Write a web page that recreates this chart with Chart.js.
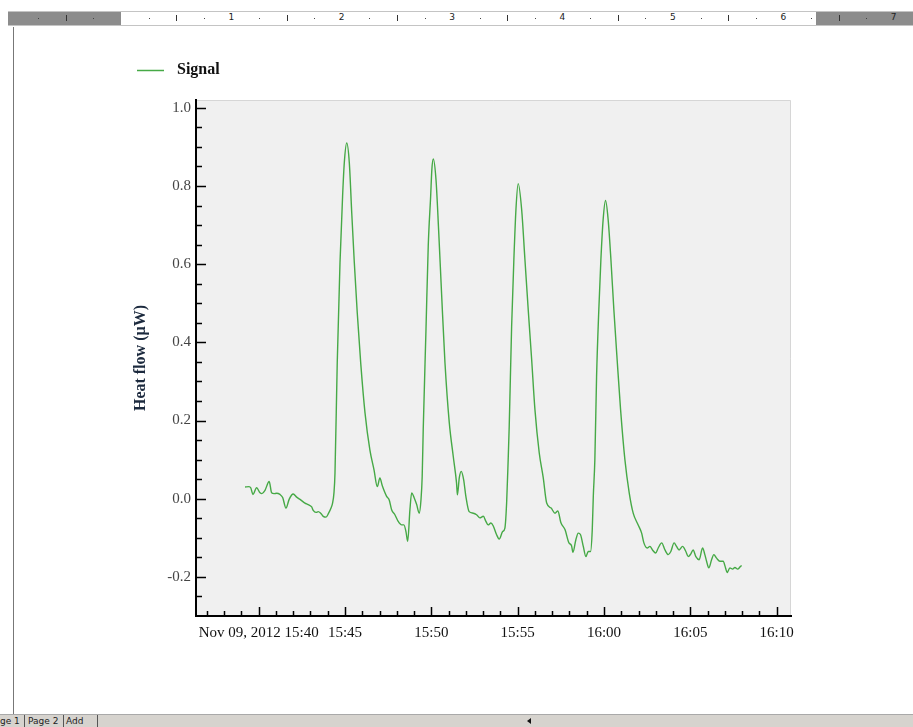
<!DOCTYPE html>
<html>
<head>
<meta charset="utf-8">
<title>Heat flow signal</title>
<script src="https://cdn.jsdelivr.net/npm/chart.js@4.4.0/dist/chart.umd.min.js"></script>
<style>
    html, body { margin: 0; padding: 0; background: #fff; }
    #page { position: relative; width: 913px; height: 727px; overflow: hidden; background: #fff; }
    #chart { position: absolute; left: 0; top: 0; }
    #ruler { position: absolute; left: 8px; top: 11px; width: 905px; height: 13px;
             background: #fff; border-top: 1px solid #c4c4c4; border-bottom: 1px solid #c4c4c4;
             font: 9px "DejaVu Sans", sans-serif; color: #222; z-index: 2; }
    .dark { position: absolute; top: 0; height: 13px; background: #8c8c8c; }
    .mark { position: absolute; color: #222; }
    #margin { position: absolute; left: 13px; top: 27px; width: 1px; height: 687px; background: #777; z-index: 2; }
    #tabs { position: absolute; left: 0; top: 714px; width: 913px; height: 13px; background: #d6d3ce;
            border-top: 1px solid #a9a9a9; font: 9px "DejaVu Sans", sans-serif; color: #222; z-index: 2; }
    #tabs span { position: absolute; top: 1px; }
    .sep { position: absolute; top: 0; width: 1px; height: 13px; background: #555; }
    #arrow { position: absolute; left: 527px; top: 3px; width: 0; height: 0;
             border-top: 3px solid transparent; border-bottom: 3px solid transparent; border-right: 4px solid #111; }
</style>
</head>
<body>
<div id="page">
    <canvas id="chart" width="913" height="727"></canvas>
    <div id="ruler"></div>
    <div id="margin"></div>
    <div id="tabs">
        <span style="left:0px">ge 1</span>
        <div class="sep" style="left:24px"></div>
        <span style="left:28px">Page 2</span>
        <div class="sep" style="left:63px"></div>
        <span style="left:66px">Add</span>
        <div class="sep" style="left:97px"></div>
        <div id="arrow"></div>
    </div>
</div>
<script>
// Time in minutes since midnight (15:40 = 940)
const times = [939.21,939.44,939.54,939.67,939.88,940.08,940.19,940.36,940.61,940.75,940.89,941.04,941.23,941.39,941.58,941.77,942.00,942.20,942.43,942.68,942.87,943.07,943.16,943.32,943.45,943.59,943.74,943.90,944.05,944.19,944.28,944.36,944.42,944.55,944.71,944.86,944.96,945.10,945.25,945.39,945.54,945.71,945.91,946.16,946.44,946.68,946.87,947.02,947.16,947.41,947.56,947.70,947.89,948.08,948.28,948.41,948.53,948.63,948.76,948.86,949.01,949.15,949.30,949.40,949.47,949.53,949.69,949.82,949.96,950.03,950.11,950.27,950.42,950.60,950.79,951.04,951.27,951.46,951.51,951.62,951.73,951.87,952.00,952.19,952.43,952.62,952.81,953.01,953.16,953.29,953.45,953.58,953.78,953.93,954.13,954.26,954.36,954.45,954.51,954.65,954.78,954.90,955.03,955.23,955.42,955.61,955.81,956.00,956.25,956.48,956.68,956.94,957.16,957.33,957.50,957.74,957.97,958.12,958.20,958.37,958.51,958.64,958.80,958.95,959.09,959.22,959.32,959.38,959.47,959.57,959.70,959.82,959.95,960.09,960.24,960.40,960.57,960.76,960.96,961.21,961.46,961.69,961.98,962.18,962.31,962.50,962.66,962.81,962.99,963.14,963.34,963.53,963.72,963.87,964.06,964.20,964.35,964.55,964.74,964.88,965.03,965.16,965.32,965.51,965.71,965.84,965.94,966.07,966.23,966.36,966.52,966.71,966.90,967.04,967.13,967.29,967.45,967.58,967.74,967.87,967.97];

// Heat flow (µW)
const signal = [0.030,0.031,0.028,0.011,0.028,0.015,0.013,0.021,0.044,0.015,0.013,0.014,0.011,0.003,-0.024,-0.001,0.012,0.004,-0.003,-0.011,-0.015,-0.021,-0.030,-0.035,-0.033,-0.037,-0.045,-0.047,-0.037,-0.024,-0.011,0.015,0.066,0.348,0.604,0.774,0.860,0.910,0.859,0.731,0.603,0.475,0.347,0.219,0.125,0.074,0.031,0.053,0.033,0.006,-0.003,-0.028,-0.041,-0.058,-0.067,-0.067,-0.084,-0.109,-0.028,0.015,0.002,-0.015,-0.037,-0.003,0.057,0.177,0.433,0.646,0.774,0.842,0.869,0.816,0.689,0.518,0.347,0.194,0.108,0.040,0.010,0.054,0.070,0.049,0.006,-0.033,-0.037,-0.041,-0.049,-0.045,-0.058,-0.067,-0.062,-0.069,-0.092,-0.103,-0.084,-0.075,-0.011,0.100,0.185,0.441,0.612,0.740,0.806,0.740,0.612,0.484,0.356,0.228,0.117,0.054,-0.011,-0.024,-0.037,-0.031,-0.061,-0.079,-0.113,-0.120,-0.137,-0.105,-0.088,-0.092,-0.122,-0.148,-0.135,-0.135,-0.079,0.006,0.100,0.313,0.484,0.612,0.714,0.763,0.714,0.612,0.484,0.356,0.228,0.100,0.015,-0.037,-0.067,-0.088,-0.113,-0.126,-0.122,-0.131,-0.139,-0.126,-0.113,-0.131,-0.143,-0.135,-0.113,-0.122,-0.131,-0.122,-0.135,-0.148,-0.141,-0.131,-0.148,-0.156,-0.126,-0.143,-0.160,-0.177,-0.156,-0.143,-0.152,-0.160,-0.160,-0.177,-0.189,-0.177,-0.180,-0.176,-0.180,-0.175,-0.171];

// Axis ticks
const xTickMinutes = [940, 945, 950, 955, 960, 965, 970];
const xTickLabels = ['Nov 09, 2012 15:40', '15:45', '15:50', '15:55', '16:00', '16:05', '16:10'];
const yTickValues = [-0.2, 0.0, 0.2, 0.4, 0.6, 0.8, 1.0];

const lineColor = '#46a946';
const serif = '"Liberation Serif", "Times New Roman", serif';

/**
 * Ruler along the top of the page
 */
function buildRuler() {
    const ruler = document.getElementById('ruler');
    const zero = 113;      // ruler-local x of the 0 inch mark
    const inch = 110.4;

    const addDark = (l, w) => {
        const d = document.createElement('div');
        d.className = 'dark';
        d.style.left = l + 'px';
        d.style.width = w + 'px';
        ruler.appendChild(d);
    };
    addDark(0, zero);
    addDark(808, 97);

    for (let q = -4; q <= 30; q++) {
        const x = zero + q * inch / 4;
        if (x < 4 || x > 902) continue;
        const m = document.createElement('div');
        m.className = 'mark';
        if (q % 4 === 0) {
            if (q <= 0) continue;
            m.textContent = String(q / 4);
            m.style.left = (x - 3) + 'px';
            m.style.top = '0px';
        } else if (q % 2 === 0) {
            m.style.left = x + 'px';
            m.style.top = '3px';
            m.style.width = '1px';
            m.style.height = '6px';
            m.style.background = '#333';
        } else {
            m.style.left = x + 'px';
            m.style.top = '6px';
            m.style.width = '1px';
            m.style.height = '1px';
            m.style.background = '#444';
        }
        ruler.appendChild(m);
    }
}

/**
 * Plot background, inward tick marks and legend
 */
const framePlugin = {
    id: 'frame',
    beforeDraw(chart) {
        const {ctx, chartArea: a} = chart;
        ctx.save();
        ctx.fillStyle = '#f0f0f0';
        ctx.fillRect(a.left, a.top, a.right - a.left, a.bottom - a.top);
        ctx.strokeStyle = '#d6d6d6';
        ctx.lineWidth = 1;
        ctx.beginPath();
        ctx.moveTo(a.left, a.top + 0.5);
        ctx.lineTo(a.right - 0.5, a.top + 0.5);
        ctx.lineTo(a.right - 0.5, a.bottom);
        ctx.stroke();
        ctx.restore();
    },
    afterDraw(chart) {
        const {ctx, chartArea: a} = chart;
        const xs = chart.scales.x;
        const ys = chart.scales.y;
        ctx.save();
        ctx.strokeStyle = '#000';
        ctx.lineWidth = 1.5;
        ctx.beginPath();
        xs.ticks.forEach(t => {
            const px = Math.round(xs.getPixelForValue(t.value)) + 0.5;
            const len = t.value % 5 === 0 ? 9 : 5;
            ctx.moveTo(px, a.bottom);
            ctx.lineTo(px, a.bottom - len);
        });
        ys.ticks.forEach(t => {
            const k = Math.round(t.value * 100);
            if (k <= -30) return;
            const py = Math.round(ys.getPixelForValue(t.value)) + 0.5;
            const len = k % 20 === 0 ? 10 : 6;
            ctx.moveTo(a.left, py);
            ctx.lineTo(a.left + len, py);
        });
        ctx.stroke();

        // legend
        const ds = chart.data.datasets[0];
        ctx.strokeStyle = ds.borderColor;
        ctx.lineWidth = 1.5;
        ctx.beginPath();
        ctx.moveTo(137, 70.5);
        ctx.lineTo(164, 70.5);
        ctx.stroke();
        ctx.fillStyle = '#111';
        ctx.font = 'bold 16px ' + serif;
        ctx.textBaseline = 'middle';
        ctx.fillText(ds.label, 177, 70);
        ctx.restore();
    }
};

function initChart() {
    const ctx = document.getElementById('chart');

    new Chart(ctx, {
        type: 'line',
        data: {
            datasets: [{
                label: 'Signal',
                data: times.map((t, i) => ({x: t, y: signal[i]})),
                borderColor: lineColor,
                borderWidth: 1.4,
                pointRadius: 0,
                cubicInterpolationMode: 'monotone',
                fill: false
            }]
        },
        options: {
            responsive: false,
            animation: false,
            devicePixelRatio: 1,
            layout: {
                padding: {left: 0, right: 122, top: 100, bottom: 0}
            },
            plugins: {
                legend: {display: false},
                tooltip: {enabled: false}
            },
            scales: {
                x: {
                    type: 'linear',
                    min: 936.37,
                    max: 970.83,
                    afterBuildTicks: scale => {
                        const ticks = [];
                        for (let m = 937; m <= 970; m++) ticks.push({value: m});
                        scale.ticks = ticks;
                    },
                    afterFit: scale => { scale.height = 111; },
                    grid: {display: true, drawOnChartArea: false, drawTicks: false},
                    border: {display: true, color: '#000', width: 2},
                    ticks: {
                        autoSkip: false,
                        maxRotation: 0,
                        minRotation: 0,
                        padding: 8,
                        color: '#111',
                        font: {family: serif, size: 15},
                        callback: value => {
                            const i = xTickMinutes.indexOf(Math.round(value));
                            return (i >= 0 && Math.abs(value - xTickMinutes[i]) < 0.01) ? xTickLabels[i] : '';
                        }
                    }
                },
                y: {
                    type: 'linear',
                    min: -0.3,
                    max: 1.02,
                    afterBuildTicks: scale => {
                        const ticks = [];
                        for (let k = -30; k <= 100; k += 5) ticks.push({value: k / 100});
                        scale.ticks = ticks;
                    },
                    afterFit: scale => { scale.width = 196; },
                    grid: {display: true, drawOnChartArea: false, drawTicks: false},
                    border: {display: true, color: '#000', width: 2},
                    title: {
                        display: true,
                        text: 'Heat flow (µW)',
                        color: '#1c2a3e',
                        font: {family: serif, size: 16, weight: 'bold'},
                        padding: {top: 131, bottom: 0}
                    },
                    ticks: {
                        autoSkip: false,
                        padding: 5,
                        color: '#444',
                        font: {family: serif, size: 15},
                        callback: value => {
                            const k = Math.round(value * 100);
                            const hit = yTickValues.some(v => Math.round(v * 100) === k);
                            return hit ? (k / 100).toFixed(1) : '';
                        }
                    }
                }
            }
        },
        plugins: [framePlugin]
    });
}

buildRuler();
initChart();
</script>
</body>
</html>
